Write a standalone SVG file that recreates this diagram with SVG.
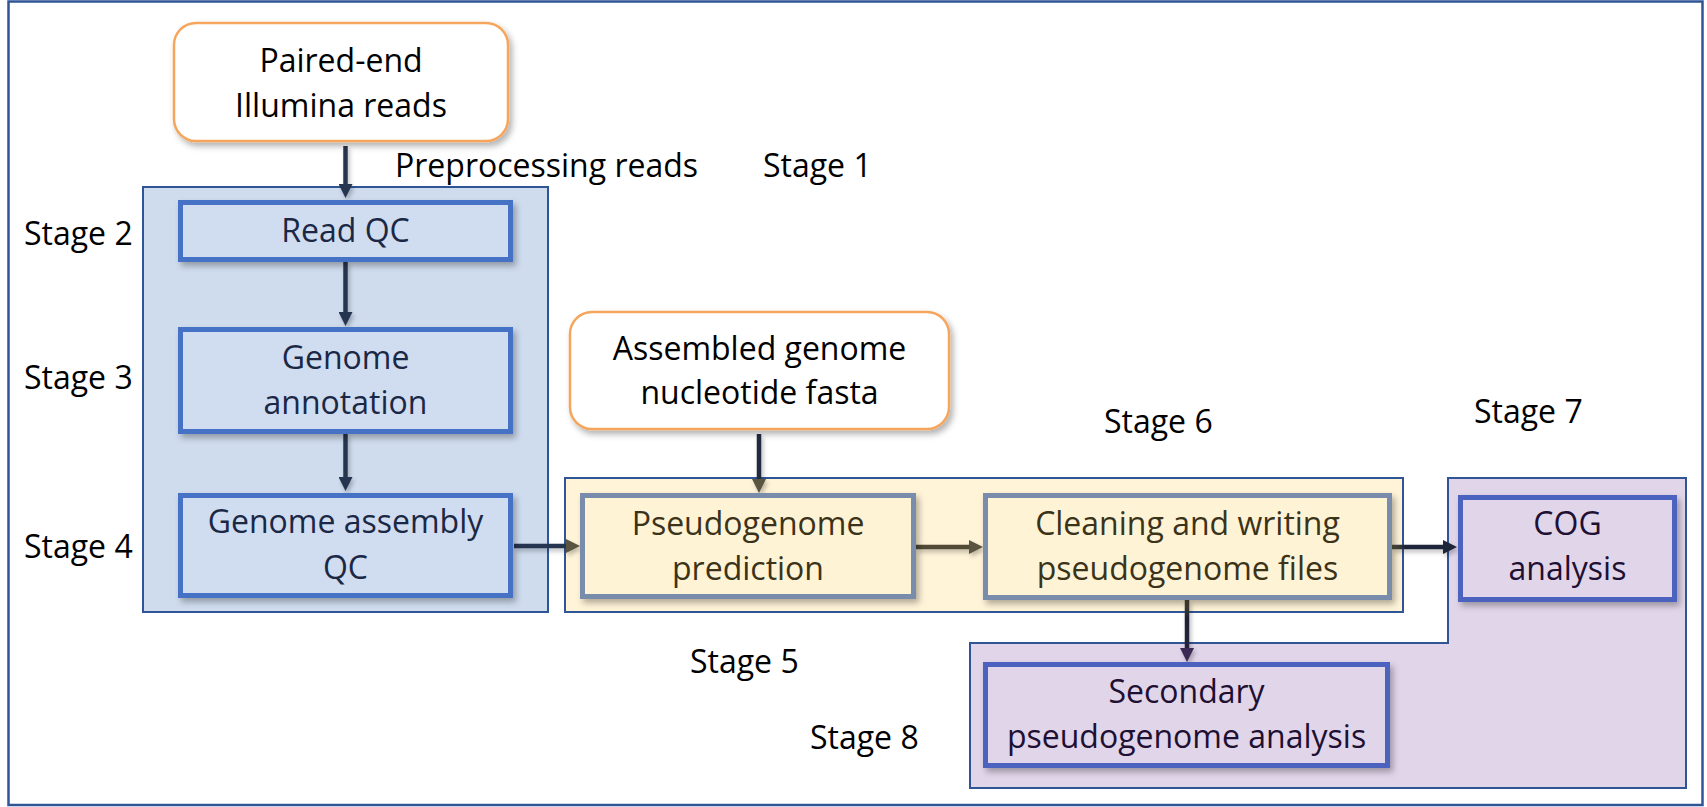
<svg xmlns="http://www.w3.org/2000/svg" width="1707" height="807" viewBox="0 0 1707 807">
<style>
text{font-family:"Open Sans","Noto Sans","Liberation Sans",sans-serif;font-size:32px;}
.lbl{fill:#000;}
.c{text-anchor:middle;}
.tb{fill:#1B2845;}
.ty{fill:#3B3319;}
.tp{fill:#1E1033;}
.tw{fill:#000;}
.cont{stroke:#2F5597;stroke-width:2;}
.nb{fill:#D0DCEF;stroke:#4472C4;stroke-width:5;}
.ny{fill:#FFF3D6;stroke:#7A8CAB;stroke-width:5;}
.np{fill:#E1D5EA;stroke:#4B62BE;stroke-width:5;}
.nr{fill:#FFFFFF;stroke:#F6A65C;stroke-width:2.5;}
.ar{fill:none;stroke-width:4.5;}
</style>
<defs>
<filter id="sh" x="-10%" y="-10%" width="125%" height="135%">
<feDropShadow dx="3" dy="4" stdDeviation="3" flood-color="#000" flood-opacity="0.3"/>
</filter>
<filter id="sha" filterUnits="userSpaceOnUse" x="0" y="0" width="1707" height="807">
<feDropShadow dx="2" dy="3" stdDeviation="2" flood-color="#000" flood-opacity="0.25"/>
</filter>
<marker id="mN" markerUnits="userSpaceOnUse" markerWidth="14" markerHeight="14" refX="2" refY="7" orient="auto"><path d="M0,0 L14,7 L0,14 z" fill="#28354F"/></marker>
<marker id="mO" markerUnits="userSpaceOnUse" markerWidth="14" markerHeight="14" refX="2" refY="7" orient="auto"><path d="M0,0 L14,7 L0,14 z" fill="#5A5440"/></marker>
<marker id="mD" markerUnits="userSpaceOnUse" markerWidth="14" markerHeight="14" refX="2" refY="7" orient="auto"><path d="M0,0 L14,7 L0,14 z" fill="#1F2538"/></marker>
<marker id="mP" markerUnits="userSpaceOnUse" markerWidth="14" markerHeight="14" refX="2" refY="7" orient="auto"><path d="M0,0 L14,7 L0,14 z" fill="#3B2B52"/></marker>
<linearGradient id="g7" gradientUnits="userSpaceOnUse" x1="1392" y1="0" x2="1457" y2="0"><stop offset="0" stop-color="#5A5440"/><stop offset="0.2" stop-color="#1F2538"/><stop offset="1" stop-color="#1F2538"/></linearGradient>
<linearGradient id="g8" gradientUnits="userSpaceOnUse" x1="0" y1="600" x2="0" y2="662"><stop offset="0" stop-color="#4F4632"/><stop offset="0.3" stop-color="#1E2233"/><stop offset="1" stop-color="#2A2440"/></linearGradient>
</defs>
<rect x="0" y="0" width="1707" height="807" fill="#FFFFFF"/>
<rect x="8.5" y="1.5" width="1694" height="803.5" fill="none" stroke="#2F5597" stroke-width="2.5"/>

<g id="containers">
<rect id="stage-blue" class="cont" x="143" y="187" width="405" height="425" fill="#CFDCEE"/>
<rect id="stage-yellow" class="cont" x="565" y="478" width="838" height="134" fill="#FFF3D8"/>
<path id="stage-purple" class="cont" d="M1448,478 H1686 V788 H970 V643 H1448 Z" fill="#E1D5EA"/>
</g>

<g id="labels">
<text class="lbl" x="395" y="177">Preprocessing reads</text>
<text class="lbl" x="763" y="177">Stage 1</text>
<text class="lbl" x="24" y="245">Stage 2</text>
<text class="lbl" x="24" y="389">Stage 3</text>
<text class="lbl" x="24" y="558">Stage 4</text>
<text class="lbl" x="690" y="673">Stage 5</text>
<text class="lbl" x="1104" y="433">Stage 6</text>
<text class="lbl" x="1474" y="423">Stage 7</text>
<text class="lbl" x="810" y="749">Stage 8</text>
</g>

<g id="connectors" filter="url(#sha)">
<path class="ar" d="M345.5,146 V186" stroke="#28354F" marker-end="url(#mN)"/>
<path class="ar" d="M345.5,262 V314" stroke="#28354F" marker-end="url(#mN)"/>
<path class="ar" d="M345.5,434 V479" stroke="#28354F" marker-end="url(#mN)"/>
<path class="ar" d="M514,546 H568" stroke="#28354F" marker-end="url(#mO)"/>
<path class="ar" d="M759,434 V481" stroke="#232B3F" marker-end="url(#mO)"/>
<path class="ar" d="M916,547 H971" stroke="#4F4A36" marker-end="url(#mO)"/>
<path class="ar" d="M1392,547 H1445" stroke="url(#g7)" marker-end="url(#mD)"/>
<path class="ar" d="M1187,600 V650" stroke="url(#g8)" marker-end="url(#mP)"/>
</g>

<g id="paired-end">
<rect class="nr" x="174" y="23" width="334" height="118" rx="22" filter="url(#sh)"/>
<text class="c tw" x="341" y="72">Paired-end</text>
<text class="c tw" x="341" y="117">Illumina reads</text>
</g>
<g id="read-qc">
<rect class="nb" x="180.5" y="202.5" width="330" height="57" filter="url(#sh)"/>
<text class="c tb" x="345.5" y="242">Read QC</text>
</g>
<g id="genome-annotation">
<rect class="nb" x="180.5" y="329.5" width="330" height="102" filter="url(#sh)"/>
<text class="c tb" x="345.5" y="369">Genome</text>
<text class="c tb" x="345.5" y="414">annotation</text>
</g>
<g id="genome-assembly-qc">
<rect class="nb" x="180.5" y="495.5" width="330" height="100" filter="url(#sh)"/>
<text class="c tb" x="345.5" y="533">Genome assembly</text>
<text class="c tb" x="345.5" y="579">QC</text>
</g>
<g id="assembled-genome">
<rect class="nr" x="570" y="312" width="379" height="117" rx="22" filter="url(#sh)"/>
<text class="c tw" x="759.5" y="360">Assembled genome</text>
<text class="c tw" x="759.5" y="404">nucleotide fasta</text>
</g>
<g id="pseudogenome-prediction">
<rect class="ny" x="582.5" y="495.5" width="331" height="101" filter="url(#sh)"/>
<text class="c ty" x="748" y="535">Pseudogenome</text>
<text class="c ty" x="748" y="580">prediction</text>
</g>
<g id="cleaning-writing">
<rect class="ny" x="985.5" y="495.5" width="404" height="102" filter="url(#sh)"/>
<text class="c ty" x="1187.5" y="535">Cleaning and writing</text>
<text class="c ty" x="1187.5" y="580">pseudogenome files</text>
</g>
<g id="cog-analysis">
<rect class="np" x="1460.5" y="497.5" width="214" height="102" filter="url(#sh)"/>
<text class="c tp" x="1567.5" y="535">COG</text>
<text class="c tp" x="1567.5" y="580">analysis</text>
</g>
<g id="secondary-analysis">
<rect class="np" x="985.5" y="664.5" width="402" height="101" filter="url(#sh)"/>
<text class="c tp" x="1186.5" y="703">Secondary</text>
<text class="c tp" x="1186.5" y="748">pseudogenome analysis</text>
</g>
</svg>
